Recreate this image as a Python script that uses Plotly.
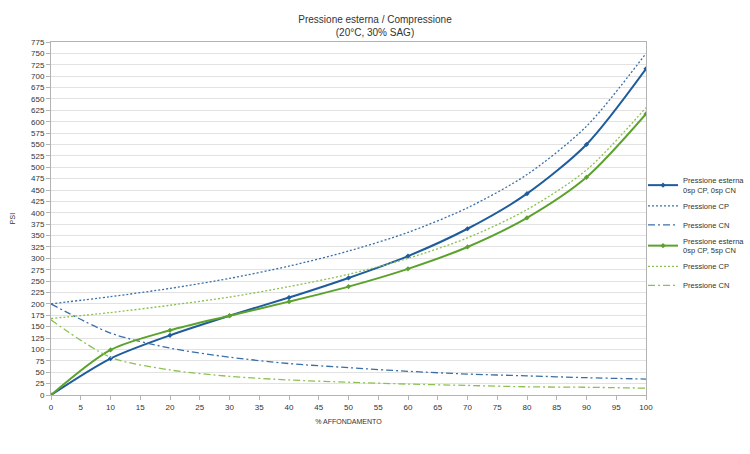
import plotly.graph_objects as go

# % affondamento (sample points every 10%)
travel = [0, 10, 20, 30, 40, 50, 60, 70, 80, 90, 100]

# 0sp CP, 0sp CN
ext_a = [0, 80, 131, 174, 214, 257, 305, 365, 442, 550, 716]
cp_a = [200, 216, 234, 256, 283, 316, 357, 411, 484, 590, 750]
cn_a = [200, 136, 103, 83, 69, 60, 52, 46, 42, 38, 35]

# 0sp CP, 5sp CN
ext_b = [0, 99, 142, 174, 205, 238, 277, 325, 389, 478, 617]
cp_b = [168, 181, 197, 215, 238, 265, 300, 345, 407, 494, 631]
cn_b = [165, 83, 55, 41, 33, 28, 24, 21, 18, 17, 15]

BLUE = "#1f5c9c"
BLUE_L = "#3a6fa8"
GREEN = "#5ba22c"
GREEN_L = "#8cc152"
FONT = "Liberation Sans, Arial, sans-serif"
GRID = "#e2e2e2"
AXIS = "#b3b3b3"

fig = go.Figure()

def add(y, name, color, dash, width, markers=False):
    fig.add_trace(go.Scatter(
        x=travel, y=y, name=name,
        mode="lines+markers" if markers else "lines",
        line=dict(color=color, width=width, dash=dash, shape="spline", smoothing=0.8),
        marker=dict(size=4, color=color, symbol="diamond"),
    ))

add(ext_a, "Pressione esterna<br>0sp CP, 0sp CN", BLUE, "solid", 2, True)
add(cp_a, "Pressione CP", BLUE_L, "2px,2px", 1.3)
add(cn_a, "Pressione CN", BLUE_L, "7px,3px,2px,3px", 1.3)
add(ext_b, "Pressione esterna<br>0sp CP, 5sp CN", GREEN, "solid", 2, True)
add(cp_b, "Pressione CP", GREEN_L, "2px,2px", 1.3)
add(cn_b, "Pressione CN", GREEN_L, "7px,3px,2px,3px", 1.3)

fig.update_layout(
    width=750, height=454,
    paper_bgcolor="white", plot_bgcolor="white",
    font=dict(family=FONT, size=8, color="#333333"),
    margin=dict(l=51, r=104, t=42, b=59, autoexpand=False),
    title=dict(
        text="Pressione esterna / Compressione<br>(20°C, 30% SAG)",
        x=0.5, xanchor="center", y=0.95, yanchor="top",
        font=dict(family=FONT, size=10, color="#333333"),
    ),
    legend=dict(
        x=0.995, xanchor="left", y=0.455, yanchor="middle",
        font=dict(family=FONT, size=7.5, color="#333333"),
        bgcolor="rgba(0,0,0,0)", tracegroupgap=0, itemwidth=30,
    ),
    showlegend=True,
)
fig.update_xaxes(
    range=[0, 100], dtick=5, showgrid=False, zeroline=False,
    showline=True, linecolor=AXIS, mirror=True,
    ticks="outside", ticklen=4, tickcolor=AXIS,
    title=dict(text="% AFFONDAMENTO", font=dict(size=7), standoff=8),
)
fig.update_yaxes(
    range=[0, 775], dtick=25, gridcolor=GRID, zeroline=False,
    showline=True, linecolor=AXIS, mirror=True,
    ticks="outside", ticklen=4, tickcolor=AXIS,
    title=dict(text="PSI", font=dict(size=7), standoff=14),
)

# page body has a default 8px margin; drop it so the 750x454 figure fills the window
fig.write_html("out.html", config={"displayModeBar": False},
               post_script="document.body.style.margin='0';")
